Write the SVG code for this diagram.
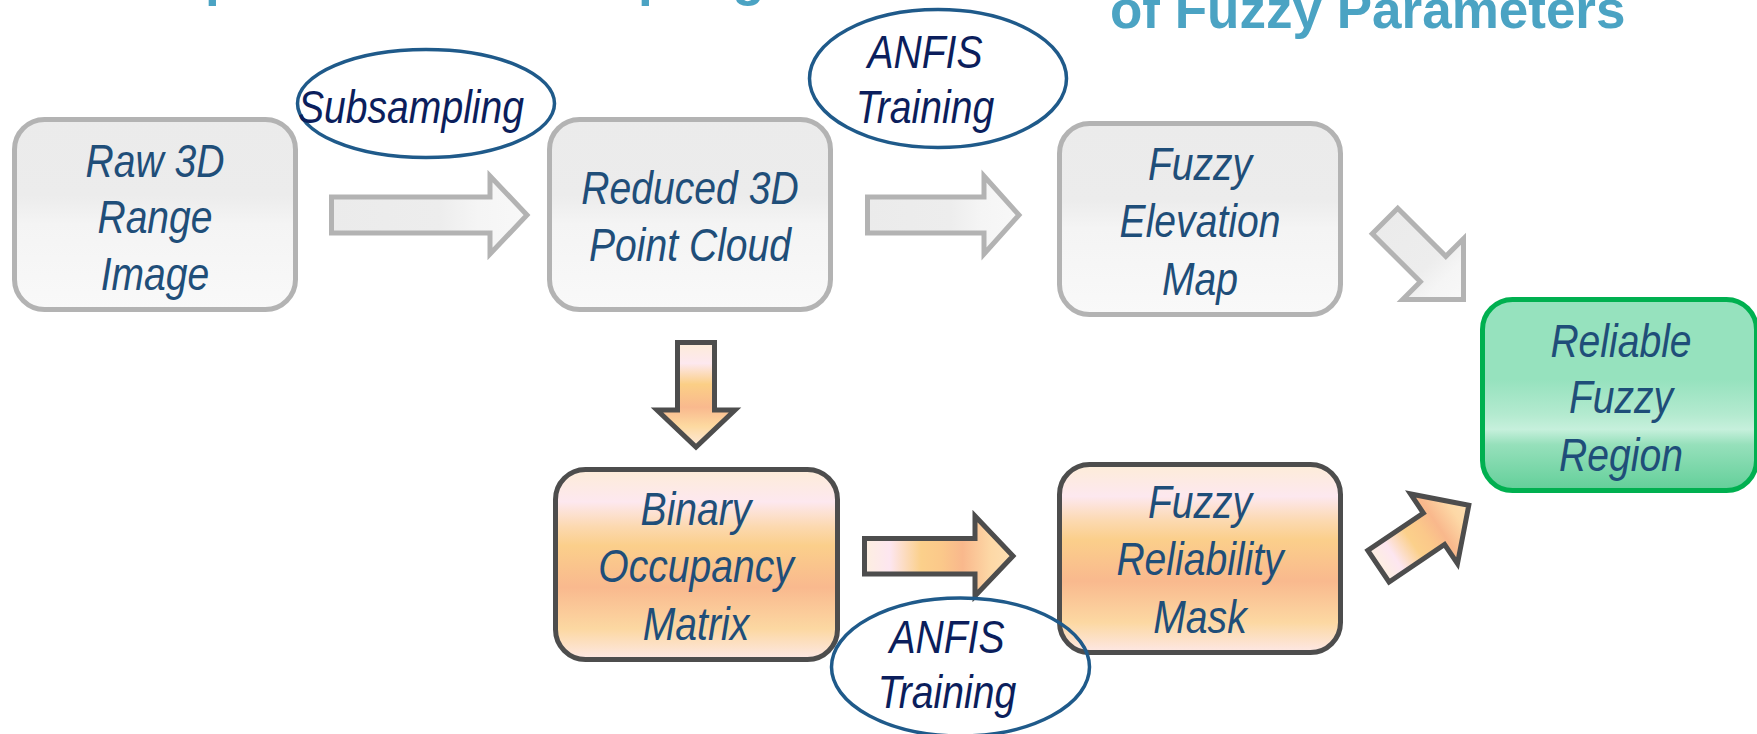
<svg xmlns="http://www.w3.org/2000/svg" width="1757" height="734" viewBox="0 0 1757 734">
<defs>
<linearGradient id="gBox" x1="0" y1="0" x2="0" y2="1">
<stop offset="0" stop-color="#ebebeb"/><stop offset="0.4" stop-color="#ececec"/><stop offset="0.55" stop-color="#f4f4f4"/><stop offset="1" stop-color="#f9f9f9"/>
</linearGradient>
<linearGradient id="gArr" x1="0" y1="0" x2="1" y2="0">
<stop offset="0" stop-color="#ebebeb"/><stop offset="0.55" stop-color="#ededed"/><stop offset="0.75" stop-color="#f5f5f5"/><stop offset="1" stop-color="#f8f8f8"/>
</linearGradient>
<linearGradient id="oBox" x1="0" y1="0" x2="0" y2="1">
<stop offset="0" stop-color="#fdecd8"/><stop offset="0.17" stop-color="#fde8ef"/><stop offset="0.3" stop-color="#fcd9b0"/><stop offset="0.4" stop-color="#fbcf8b"/><stop offset="0.62" stop-color="#f9b98e"/><stop offset="0.84" stop-color="#fcd8a2"/><stop offset="1" stop-color="#fde8e6"/>
</linearGradient>
<linearGradient id="oArrH" x1="0" y1="0" x2="1" y2="0">
<stop offset="0" stop-color="#fdefe0"/><stop offset="0.17" stop-color="#fde6f0"/><stop offset="0.38" stop-color="#fbd08b"/><stop offset="0.52" stop-color="#fbc88a"/><stop offset="0.66" stop-color="#f9b88c"/><stop offset="0.85" stop-color="#fdd8a6"/><stop offset="1" stop-color="#fde0b4"/>
</linearGradient>
<linearGradient id="oArrV" x1="0" y1="0" x2="0" y2="1">
<stop offset="0" stop-color="#fdecd8"/><stop offset="0.2" stop-color="#fde8ef"/><stop offset="0.4" stop-color="#fbcf86"/><stop offset="0.62" stop-color="#f9b98e"/><stop offset="0.8" stop-color="#fdd9a0"/><stop offset="1" stop-color="#fdeadc"/>
</linearGradient>
<linearGradient id="grBox" x1="0" y1="0" x2="0" y2="1">
<stop offset="0" stop-color="#96e2be"/><stop offset="0.42" stop-color="#96e2be"/><stop offset="0.6" stop-color="#b3eacf"/><stop offset="0.68" stop-color="#c6f0dc"/><stop offset="0.76" stop-color="#96e0bb"/><stop offset="1" stop-color="#62cf99"/>
</linearGradient>
</defs>
<style>
.gray{fill:url(#gBox);stroke:#b3b3b3;stroke-width:5}
.orange{fill:url(#oBox);stroke:#4d4d4d;stroke-width:5}
.green{fill:url(#grBox);stroke:#00b050;stroke-width:5}
.garr{fill:url(#gArr);stroke:#b3b3b3;stroke-width:5;stroke-linejoin:miter}
.oarr{fill:url(#oArrH);stroke:#4d4d4d;stroke-width:5;stroke-linejoin:miter}
.lab{fill:none;stroke:#1f5a8a;stroke-width:3.5}
text{font-family:"Liberation Sans",Arial,sans-serif;font-size:46px;font-style:italic;text-anchor:middle}
.nt{fill:#1f4e79}
.lt{fill:#0b1e5c}
.title{font-style:normal;font-weight:bold;font-size:53px;fill:#4ba3c3;text-anchor:start}
</style>
<g id="titles">
<text class="title" x="158" y="-5">Input Data Subsampling</text>
<text class="title" x="1110" y="28">of Fuzzy Parameters</text>
</g>
<g id="node-raw">
<rect class="gray" x="14.5" y="119.5" width="281" height="190" rx="30"/>
<g transform="translate(155 0) scale(0.85 1)">
<text class="nt" x="0" y="177">Raw 3D</text>
<text class="nt" x="0" y="233">Range</text>
<text class="nt" x="0" y="290">Image</text>
</g>
</g>
<g id="node-reduced">
<rect class="gray" x="549.5" y="119.5" width="281" height="190" rx="30"/>
<g transform="translate(690 0) scale(0.85 1)">
<text class="nt" x="0" y="204">Reduced 3D</text>
<text class="nt" x="0" y="261">Point Cloud</text>
</g>
</g>
<g id="node-elevation">
<rect class="gray" x="1059.5" y="123.5" width="281" height="191" rx="30"/>
<g transform="translate(1200 0) scale(0.85 1)">
<text class="nt" x="0" y="180">Fuzzy</text>
<text class="nt" x="0" y="237">Elevation</text>
<text class="nt" x="0" y="295">Map</text>
</g>
</g>
<g id="node-binary">
<rect class="orange" x="555.5" y="469.5" width="282" height="190" rx="30"/>
<g transform="translate(696 0) scale(0.85 1)">
<text class="nt" x="0" y="525">Binary</text>
<text class="nt" x="0" y="582">Occupancy</text>
<text class="nt" x="0" y="640">Matrix</text>
</g>
</g>
<g id="node-mask">
<rect class="orange" x="1059.5" y="464.5" width="281" height="188" rx="30"/>
<g transform="translate(1200 0) scale(0.85 1)">
<text class="nt" x="0" y="518">Fuzzy</text>
<text class="nt" x="0" y="575">Reliability</text>
<text class="nt" x="0" y="633">Mask</text>
</g>
</g>
<g id="node-region">
<rect class="green" x="1482.5" y="299.5" width="274" height="191" rx="30"/>
<g transform="translate(1621 0) scale(0.85 1)">
<text class="nt" x="0" y="357">Reliable</text>
<text class="nt" x="0" y="413">Fuzzy</text>
<text class="nt" x="0" y="471">Region</text>
</g>
</g>
<g id="connectors">
<polygon class="garr" points="331.5,197 490,197 490,176 527,215 490,254 490,233 331.5,233"/>
<polygon class="garr" points="867.5,197 984,197 984,176 1019,215 984,254 984,233 867.5,233"/>
<polygon class="garr" transform="translate(1463.5 299.5) rotate(45)" points="0,0 -43,-43 -43,-18 -111,-18 -111,18 -43,18 -43,43"/>
<polygon fill="url(#oArrV)" stroke="#4d4d4d" stroke-width="5" points="677.5,342.5 714.5,342.5 714.5,410 735,410 696,447 657,410 677.5,410"/>
<polygon class="oarr" points="864.5,538.5 975,538.5 975,516 1013,556 975,596 975,574 864.5,574"/>
<polygon class="oarr" transform="translate(1468.8 505.3) rotate(-34)" points="0,0 -42,-42 -42,-19 -109,-19 -109,19 -42,19 -42,42"/>
<g id="label-subsampling">
<ellipse class="lab" cx="426" cy="103.5" rx="128.5" ry="54"/>
<g transform="translate(411 0) scale(0.85 1)"><text class="lt" x="0" y="123">Subsampling</text></g>
</g>
<g id="label-anfis-top">
<ellipse class="lab" cx="938" cy="78.5" rx="128.5" ry="69"/>
<g transform="translate(925 0) scale(0.85 1)"><text class="lt" x="0" y="68">ANFIS</text><text class="lt" x="0" y="123">Training</text></g>
</g>
<g id="label-anfis-bottom">
<ellipse class="lab" cx="960.5" cy="667" rx="129" ry="69"/>
<g transform="translate(947 0) scale(0.85 1)"><text class="lt" x="0" y="653">ANFIS</text><text class="lt" x="0" y="708">Training</text></g>
</g>
</g>
</svg>
